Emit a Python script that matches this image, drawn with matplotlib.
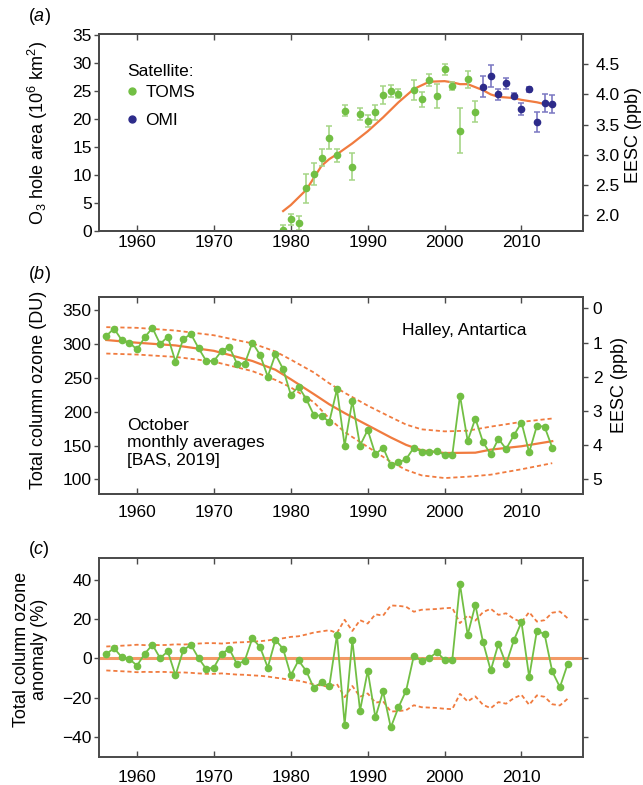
import matplotlib
matplotlib.use("Agg")
import matplotlib.pyplot as plt
from matplotlib.lines import Line2D

plt.rcParams['font.family'] = ['Liberation Sans', 'DejaVu Sans']
plt.rcParams['mathtext.fontset'] = 'custom'
plt.rcParams['mathtext.rm'] = 'Liberation Sans'
plt.rcParams['mathtext.it'] = 'Liberation Sans:italic'
plt.rcParams['mathtext.default'] = 'regular'

# --- (a) ozone hole area, satellites ---
toms_years = [1979, 1980, 1981, 1982, 1983, 1984, 1985, 1986, 1987, 1988, 1989, 1990,
              1991, 1992, 1993, 1994, 1996, 1997, 1998, 1999, 2000, 2001, 2002, 2003, 2004]
toms_area = [0.2, 2.1, 1.4, 7.6, 10.2, 13.1, 16.7, 13.5, 21.5, 11.5, 20.9, 19.7,
             21.2, 24.3, 25.0, 24.5, 25.2, 23.5, 27.0, 24.1, 28.9, 25.9, 17.9, 27.1, 21.3]
toms_err = [0.9, 1.0, 1.3, 2.6, 2.0, 1.55, 2.1, 1.1, 1.0, 2.35, 1.05, 1.1,
            1.35, 1.6, 1.1, 0.8, 1.8, 1.4, 1.1, 2.1, 0.95, 0.7, 4.05, 1.5, 1.85]
omi_years = [2005, 2006, 2007, 2008, 2009, 2010, 2011, 2012, 2013, 2014]
omi_area = [25.8, 27.7, 24.4, 26.4, 24.2, 21.8, 25.3, 19.5, 22.9, 22.7]
omi_err = [1.9, 1.95, 0.95, 1.0, 0.4, 1.1, 0.5, 1.8, 1.6, 1.55]

eesc_years = [1979, 1980, 1982, 1983, 1984, 1985, 1986, 1988, 1990, 1992, 1994, 1996,
              1998, 2000, 2001, 2002, 2003, 2004, 2005, 2006, 2007, 2008, 2009, 2010, 2012, 2014]
eesc_ppb = [2.07, 2.17, 2.42, 2.62, 2.82, 2.93, 3.01, 3.19, 3.39, 3.62, 3.87, 4.09,
            4.21, 4.22, 4.20, 4.17, 4.17, 4.12, 4.07, 4.00, 3.96, 3.95, 3.94, 3.91, 3.87, 3.81]

# --- (b) Halley October total column ozone ---
halley_years = list(range(1956, 2015))
halley_du = [312, 323, 306, 302, 292, 310, 324, 300, 311, 274,
             307, 315, 294, 275, 275, 290, 296, 271, 271, 302,
             284, 252, 285, 263, 225, 237, 219, 195, 194, 185,
             233, 150, 216, 150, 173, 137, 147, 121, 125, 130,
             147, 141, 140, 142, 136, 136, 224, 157, 190, 155,
             137, 160, 145, 165, 184, 140, 179, 178, 147]

fit_years = [1956, 1960, 1965, 1970, 1975, 1978, 1980, 1983, 1985, 1987, 1990,
             1993, 1995, 1997, 2000, 2004, 2006, 2010, 2014]
fit_du = [306, 302, 298, 290, 275, 262, 248, 226, 211, 198, 180,
          162, 151, 143, 139, 139.5, 144, 149, 156.5]
band_years = [1956, 1960, 1965, 1970, 1975, 1978, 1980, 1983, 1985, 1987, 1990,
              1993, 1995, 1997, 2000, 2003, 2006, 2010, 2014]
upper_du = [325, 324, 320, 313, 301, 289, 277, 258, 242, 228, 209,
            192, 181, 174, 171, 172, 178, 185, 190]
lower_du = [286, 284.5, 281, 274, 260, 247, 236, 214, 190, 170, 148,
            126, 114, 106, 102, 104, 107, 115, 124]

# --- (c) anomaly (%) ---
anom_years = list(range(1956, 2017))
anomaly = [2.2, 5.3, 0.7, -0.3, -3.6, 2.4, 7.0, 0.2, 3.6, -8.6,
           4.1, 7.0, 0.2, -5.4, -4.6, 2.4, 4.9, -2.9, -1.2, 10.3,
           5.8, -4.6, 9.5, 4.9, -8.6, -1.0, -6.3, -15.1, -12.0, -14.2,
           12.0, -33.7, 9.5, -26.6, -6.3, -30.0, -16.8, -35.1, -24.9, -16.3,
           1.4, -1.2, 0.2, 3.2, -0.7, -0.7, 37.8, 12.0, 27.3, 8.3,
           -6.1, 7.5, -2.9, 9.2, 18.5, -9.5, 14.1, 12.4, -6.6, -14.6, -2.9]
anom_sigma = [6.1, 6.3, 6.5, 6.7, 7.0, 6.8, 6.9, 6.8, 6.9, 7.2,
              7.1, 7.3, 7.6, 7.8, 7.8, 7.6, 7.9, 8.2, 8.3, 8.6,
              8.8, 9.2, 9.8, 10.3, 11.0, 11.3, 12.2, 13.2, 13.8, 14.4,
              13.0, 19.7, 14.0, 19.5, 17.8, 22.5, 21.8, 27.0, 26.8, 26.3,
              23.8, 24.8, 25.0, 25.2, 25.6, 25.8, 18.0, 21.9, 19.3, 23.6,
              25.3, 22.2, 23.0, 20.2, 18.5, 23.6, 18.8, 19.5, 23.3, 23.9, 20.5]

green = '#72bf44'
green_err = '#a5d686'
navy = '#2d2b8a'
navy_err = '#7b78c2'
orange = '#f07b3f'
frame = '#4a4a4a'
fs = 12.5

W, H = 643, 785


def rect(left, top, right, bottom):
    return [left / W, 1 - bottom / H, (right - left) / W, (bottom - top) / H]


def style(ax, xpad):
    ax.set_xlim(1955, 2018)
    ax.set_xticks(range(1960, 2011, 10))
    ax.tick_params(axis='x', direction='in', top=True, bottom=True, length=4,
                   width=1, color=frame, pad=xpad, labelsize=fs)
    ax.tick_params(axis='y', direction='out', length=3.5, width=1, color=frame,
                   pad=1.5, labelsize=fs)
    for s in ax.spines.values():
        s.set_color(frame)
        s.set_linewidth(1.4)


def style_right(ax, pad):
    ax.tick_params(axis='y', direction='out', length=3.5, width=1, color=frame,
                   pad=pad, labelsize=fs)
    for s in ax.spines.values():
        s.set_color(frame)
        s.set_linewidth(1.4)


fig = plt.figure(figsize=(6.43, 7.85), dpi=100)

# (a)
ax_a = fig.add_axes(rect(98.6, 34, 583, 231))
style(ax_a, 3)
ax_a2 = ax_a.twinx()
style_right(ax_a2, 5.5)
ax_a.set_zorder(ax_a2.get_zorder() + 1)
ax_a.patch.set_visible(False)

ax_a2.plot(eesc_years, eesc_ppb, color=orange, lw=1.6)
ax_a2.set_ylim(1.74, 5.0)
ax_a2.set_yticks([2.0, 2.5, 3.0, 3.5, 4.0, 4.5])
ax_a2.set_yticklabels(['%.1f' % v for v in [2.0, 2.5, 3.0, 3.5, 4.0, 4.5]])

ax_a.errorbar(toms_years, toms_area, yerr=toms_err, fmt='o', color=green, ms=4.5,
              ecolor=green_err, elinewidth=1.2, capsize=2, capthick=1.1)
ax_a.errorbar(omi_years, omi_area, yerr=omi_err, fmt='o', color=navy, ms=4.5,
              ecolor=navy_err, elinewidth=1.2, capsize=2, capthick=1.1)
ax_a.set_ylim(0, 35.2)
ax_a.set_yticks(range(0, 36, 5))

ax_a.text(0.0586, 0.81, 'Satellite:', transform=ax_a.transAxes, fontsize=fs,
          va='center', ha='left')
handles = [Line2D([], [], ls='none', marker='o', ms=5, color=green),
           Line2D([], [], ls='none', marker='o', ms=5, color=navy)]
ax_a.legend(handles, ['TOMS', 'OMI'], loc='upper left', bbox_to_anchor=(0.05, 0.741),
            frameon=False, fontsize=fs, borderaxespad=0, borderpad=0,
            handlelength=1.0, handletextpad=0.3, labelspacing=0.74)

# (b)
ax_b = fig.add_axes(rect(98.6, 296.7, 583, 494.3))
style(ax_b, 7.5)
ax_b2 = ax_b.twinx()
style_right(ax_b2, 3.5)
ax_b.set_zorder(ax_b2.get_zorder() + 1)
ax_b.patch.set_visible(False)

ax_b.plot(band_years, upper_du, color=orange, lw=1.3, ls=(0, (2.3, 1.6)))
ax_b.plot(band_years, lower_du, color=orange, lw=1.3, ls=(0, (2.3, 1.6)))
ax_b.plot(fit_years, fit_du, color=orange, lw=1.6)
ax_b.plot(halley_years, halley_du, '-o', color=green, lw=1.3, ms=4.5)
ax_b.set_ylim(78, 370)
ax_b.set_yticks(range(100, 351, 50))
ax_b2.set_ylim(5.44, -0.34)
ax_b2.set_yticks(range(0, 6))

ax_b.text(0.626, 0.831, 'Halley, Antartica', transform=ax_b.transAxes, fontsize=fs,
          va='center', ha='left')
ax_b.text(0.059, 0.26, 'October\nmonthly averages\n[BAS, 2019]', transform=ax_b.transAxes,
          fontsize=fs, va='center', ha='left', linespacing=1.2)

# (c)
ax_c = fig.add_axes(rect(98.6, 558.3, 583, 756.7))
style(ax_c, 9.5)
ax_c.tick_params(axis='y', right=True, labelright=False)
ax_c.axhline(0, color='#f39a66', lw=2.2, zorder=1)
ax_c.plot(anom_years, [s for s in anom_sigma], color=orange, lw=1.3, ls=(0, (2.3, 1.6)))
ax_c.plot(anom_years, [-s for s in anom_sigma], color=orange, lw=1.3, ls=(0, (2.3, 1.6)))
ax_c.plot(anom_years, anomaly, '-o', color=green, lw=1.3, ms=4.5, zorder=3)
ax_c.set_ylim(-50, 51)
ax_c.set_yticks([-40, -20, 0, 20, 40])

# panel tags and axis titles
for tag, y in [('a', 16.7), ('b', 275), ('c', 549)]:
    fig.text(39 / W, 1 - y / H, '($\\mathit{%s}$)' % tag, fontsize=13, ha='center', va='center')

fig.text(38 / W, 1 - 132.5 / H, 'O$_3$ hole area (10$^6$ km$^2$)', rotation=90,
         fontsize=13, ha='center', va='center')
fig.text(39 / W, 1 - 390 / H, 'Total column ozone (DU)', rotation=90,
         fontsize=13, ha='center', va='center')
fig.text(30.5 / W, 1 - 649 / H, 'Total column ozone\nanomaly (%)', rotation=90,
         fontsize=13, ha='center', va='center', multialignment='center', linespacing=1.0)
fig.text(633 / W, 1 - 135 / H, 'EESC (ppb)', rotation=90, fontsize=13,
         ha='center', va='center')
fig.text(620 / W, 1 - 385 / H, 'EESC (ppb)', rotation=90, fontsize=13,
         ha='center', va='center')

fig.savefig('out.png', dpi=100)
